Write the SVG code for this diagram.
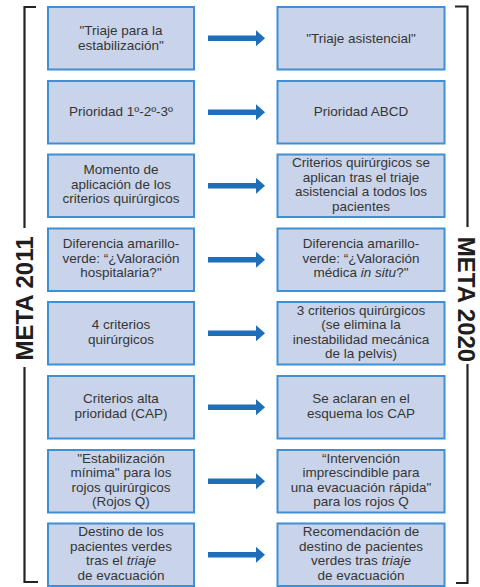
<svg xmlns="http://www.w3.org/2000/svg" width="480" height="587" viewBox="0 0 480 587">
  <style>
    .box { fill: #c9d4eb; stroke: #3f8fd4; stroke-width: 2; }
    .lbl { font-family: "Liberation Sans", Arial, sans-serif; font-size: 13.5px; fill: #353535; text-anchor: middle; }
    .arrow { stroke: #1e6fb8; stroke-width: 5.5; fill: none; }
    .brace { stroke: #232323; stroke-width: 2.2; fill: none; }
    .meta { font-family: "Liberation Sans", Arial, sans-serif; font-size: 24px; font-weight: bold; fill: #1e1e1e; text-anchor: middle; }
  </style>
  <defs>
    <marker id="head" viewBox="0 0 9 16" refX="1" refY="8" markerWidth="9" markerHeight="16" markerUnits="userSpaceOnUse" orient="auto">
      <path d="M0,0 L9,8 L0,16 Z" fill="#1e6fb8"/>
    </marker>
  </defs>

  <!-- side brackets with period labels -->
  <g id="meta2011">
    <path class="brace" d="M36,7 H24.5 V228 M24.5,367 V582 H38"/>
    <text class="meta" transform="translate(33,298.5) rotate(-90)">META 2011</text>
  </g>
  <g id="meta2020">
    <path class="brace" d="M455,6.5 H467.5 V227 M467.5,364 V583 H456"/>
    <text class="meta" transform="translate(457.5,299.5) rotate(90)">META 2020</text>
  </g>

  <!-- row 1 -->
  <g id="l1"><rect class="box" x="48" y="7" width="146" height="62.5"/>
    <text class="lbl" x="121" y="35">"Triaje para la<tspan x="121" dy="14.5">estabilización"</tspan></text></g>
  <g id="r1"><rect class="box" x="277.5" y="7" width="167" height="62.5"/>
    <text class="lbl" x="361" y="42.5">"Triaje asistencial"</text></g>

  <!-- row 2 -->
  <g id="l2"><rect class="box" x="48" y="81" width="146" height="62.5"/>
    <text class="lbl" x="121" y="116">Prioridad 1º-2º-3º</text></g>
  <g id="r2"><rect class="box" x="277.5" y="81" width="167" height="62.5"/>
    <text class="lbl" x="361" y="116">Prioridad ABCD</text></g>

  <!-- row 3 -->
  <g id="l3"><rect class="box" x="48" y="154.5" width="146" height="62.5"/>
    <text class="lbl" x="121" y="174.3">Momento de<tspan x="121" dy="14.5">aplicación de los</tspan><tspan x="121" dy="14.5">criterios quirúrgicos</tspan></text></g>
  <g id="r3"><rect class="box" x="277.5" y="154.5" width="167" height="62.5"/>
    <text class="lbl" x="361" y="167">Criterios quirúrgicos se<tspan x="361" dy="14.5">aplican tras el triaje</tspan><tspan x="361" dy="14.5">asistencial a todos los</tspan><tspan x="361" dy="14.5">pacientes</tspan></text></g>

  <!-- row 4 -->
  <g id="l4"><rect class="box" x="48" y="228.5" width="146" height="62.5"/>
    <text class="lbl" x="121" y="248.3">Diferencia amarillo-<tspan x="121" dy="14.5">verde: “¿Valoración</tspan><tspan x="121" dy="14.5">hospitalaria?"</tspan></text></g>
  <g id="r4"><rect class="box" x="277.5" y="228.5" width="167" height="62.5"/>
    <text class="lbl" x="361" y="248.3">Diferencia amarillo-<tspan x="361" dy="14.5">verde: “¿Valoración</tspan><tspan x="361" dy="14.5">médica <tspan font-style="italic">in situ</tspan>?"</tspan></text></g>

  <!-- row 5 -->
  <g id="l5"><rect class="box" x="48" y="302" width="146" height="62.5"/>
    <text class="lbl" x="121" y="329">4 criterios<tspan x="121" dy="14.5">quirúrgicos</tspan></text></g>
  <g id="r5"><rect class="box" x="277.5" y="302" width="167" height="62.5"/>
    <text class="lbl" x="361" y="314.5">3 criterios quirúrgicos<tspan x="361" dy="14.5">(se elimina la</tspan><tspan x="361" dy="14.5">inestabilidad mecánica</tspan><tspan x="361" dy="14.5">de la pelvis)</tspan></text></g>

  <!-- row 6 -->
  <g id="l6"><rect class="box" x="48" y="376" width="146" height="62.5"/>
    <text class="lbl" x="121" y="403">Criterios alta<tspan x="121" dy="14.5">prioridad (CAP)</tspan></text></g>
  <g id="r6"><rect class="box" x="277.5" y="376" width="167" height="62.5"/>
    <text class="lbl" x="361" y="403">Se aclaran en el<tspan x="361" dy="14.5">esquema los CAP</tspan></text></g>

  <!-- row 7 -->
  <g id="l7"><rect class="box" x="48" y="450" width="146" height="62.5"/>
    <text class="lbl" x="121" y="462.5">"Estabilización<tspan x="121" dy="14.5">mínima" para los</tspan><tspan x="121" dy="14.5">rojos quirúrgicos</tspan><tspan x="121" dy="14.5">(Rojos Q)</tspan></text></g>
  <g id="r7"><rect class="box" x="277.5" y="450" width="167" height="62.5"/>
    <text class="lbl" x="361" y="462.5">“Intervención<tspan x="361" dy="14.5">imprescindible para</tspan><tspan x="361" dy="14.5">una evacuación rápida"</tspan><tspan x="361" dy="14.5">para los rojos Q</tspan></text></g>

  <!-- row 8 -->
  <g id="l8"><rect class="box" x="48" y="523.5" width="146" height="62.5"/>
    <text class="lbl" x="121" y="536">Destino de los<tspan x="121" dy="14.5">pacientes verdes</tspan><tspan x="121" dy="14.5">tras el <tspan font-style="italic">triaje</tspan></tspan><tspan x="121" dy="14.5">de evacuación</tspan></text></g>
  <g id="r8"><rect class="box" x="277.5" y="523.5" width="167" height="62.5"/>
    <text class="lbl" x="361" y="536">Recomendación de<tspan x="361" dy="14.5">destino de pacientes</tspan><tspan x="361" dy="14.5">verdes tras <tspan font-style="italic">triaje</tspan></tspan><tspan x="361" dy="14.5">de evacuación</tspan></text></g>

  <!-- connectors: 2011 item to 2020 item -->
  <g id="connectors" class="arrow" marker-end="url(#head)">
    <line x1="208" y1="38.3" x2="257" y2="38.3"/>
    <line x1="208" y1="112.3" x2="257" y2="112.3"/>
    <line x1="208" y1="185.8" x2="257" y2="185.8"/>
    <line x1="208" y1="259.8" x2="257" y2="259.8"/>
    <line x1="208" y1="333.3" x2="257" y2="333.3"/>
    <line x1="208" y1="407.3" x2="257" y2="407.3"/>
    <line x1="208" y1="481.3" x2="257" y2="481.3"/>
    <line x1="208" y1="554.8" x2="257" y2="554.8"/>
  </g>
</svg>
